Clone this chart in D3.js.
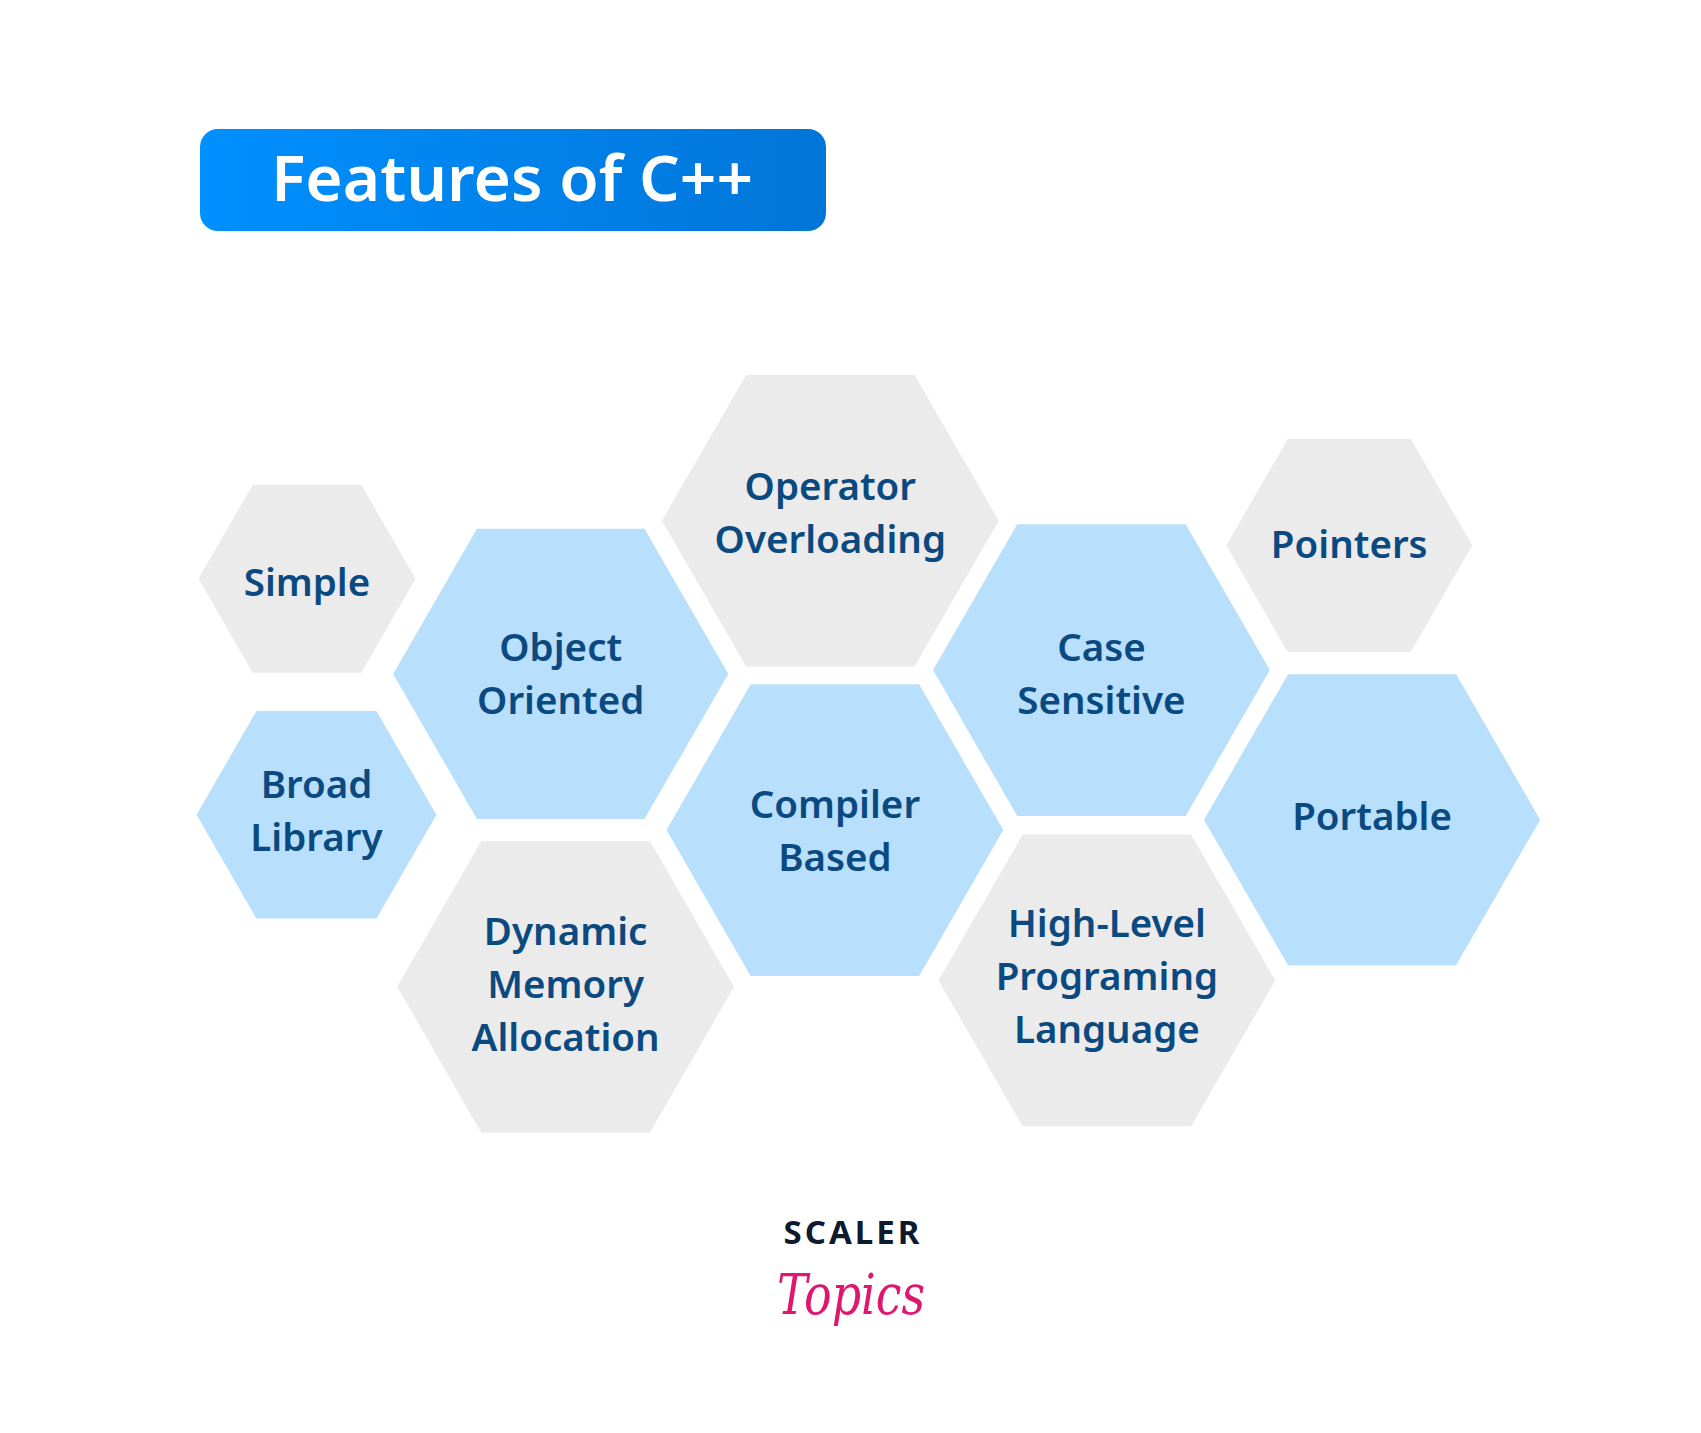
<!DOCTYPE html>
<html>
<head>
<meta charset="utf-8">
<script src="https://cdn.jsdelivr.net/npm/d3@7"></script>
<style>
  html, body { margin: 0; padding: 0; background: #fff; }
  svg { display: block; }
</style>
</head>
<body>
<script>
    'use strict';

    // feature labels, one entry per hexagon (lines split by "|")
    var labels = ['Simple', 'Broad|Library', 'Object|Oriented', 'Dynamic|Memory|Allocation',
        'Operator|Overloading', 'Compiler|Based', 'Case|Sensitive',
        'High-Level|Programing|Language', 'Pointers', 'Portable'];
    var tones = ['grey', 'blue', 'blue', 'grey', 'grey', 'blue', 'blue', 'grey', 'grey', 'blue'];
    // layout values, percent of the canvas
    var colPct = [18.08, 18.64, 33.07, 33.36, 49.00, 49.27, 65.02, 65.34, 79.66, 81.01];
    var rowPct = [40.44, 57.05, 47.14, 69.16, 36.36, 58.13, 46.87, 68.71, 38.10, 57.40];
    var sizePct = [6.38, 7.05, 9.85, 9.9, 9.9, 9.9, 9.9, 9.9, 7.23, 9.88];

    var title = 'Features of C++';
    var brandTop = 'SCALER', brandBottom = 'Topics';

    var width = 1701, height = 1433;

    var x = d3.scaleLinear().domain([0, 100]).range([1, width * 0.995 + 1]),
        y = d3.scaleLinear().domain([0, 100]).range([4, height * 0.9917 + 4]),
        r = d3.scaleLinear().domain([0, 100]).range([0, width]),
        fill = d3.scaleOrdinal().domain(['grey', 'blue']).range(['#ebebeb', '#b8dffb']);

    // label block sits a little off centre in some cells
    var nudge = {
        'Simple': 3, 'Broad|Library': -4, 'Dynamic|Memory|Allocation': -3,
        'Operator|Overloading': -8, 'Case|Sensitive': 3,
        'High-Level|Programing|Language': -4, 'Pointers': -1, 'Portable': -4
    };

    var svg = d3.select('body').append('svg')
        .attr('width', width)
        .attr('height', height);

    var defs = svg.append('defs');
    var grad = defs.append('linearGradient').attr('id', 'titleGrad')
        .attr('x1', '0%').attr('x2', '100%').attr('y1', '0%').attr('y2', '0%');
    grad.append('stop').attr('offset', '0%').attr('stop-color', '#0090ff');
    grad.append('stop').attr('offset', '100%').attr('stop-color', '#0175d8');

    // title badge
    var badge = svg.append('g');
    badge.append('rect')
        .attr('x', 200).attr('y', 129)
        .attr('width', 626).attr('height', 102)
        .attr('rx', 18).attr('ry', 18)
        .attr('fill', 'url(#titleGrad)');
    badge.append('text')
        .attr('x', 512).attr('y', 201)
        .attr('text-anchor', 'middle')
        .attr('font-family', '"Noto Sans", sans-serif')
        .attr('font-weight', 600)
        .attr('font-size', 64)
        .attr('fill', '#fff')
        .text(title);

    var rows = labels.map(function (d, i) {
        return {
            label: d,
            tone: tones[i],
            cx: x(colPct[i]),
            cy: y(rowPct[i]),
            R: r(sizePct[i])
        };
    });

    function hexPath(d) {
        var pts = d3.range(6).map(function (k) {
            var a = Math.PI / 3 * k;
            return [d.cx + d.R * Math.cos(a), d.cy + d.R * Math.sin(a)];
        });
        return 'M' + pts.join('L') + 'Z';
    }

    var cells = svg.append('g').selectAll('g.cell')
        .data(rows)
        .enter().append('g')
        .attr('class', 'cell');

    cells.append('path')
        .attr('d', hexPath)
        .attr('fill', function (d) { return fill(d.tone); });

    var lineH = 53;
    cells.append('text')
        .attr('text-anchor', 'middle')
        .attr('font-family', '"Noto Sans", sans-serif')
        .attr('font-weight', 600)
        .attr('font-size', 38.5)
        .attr('fill', '#0b4a80')
        .each(function (d) {
            var parts = d.label.split('|'),
                t = d3.select(this),
                first = d.cy - (parts.length - 1) * lineH / 2 + 14 + (nudge[d.label] || 0);
            parts.forEach(function (p, j) {
                t.append('tspan')
                    .attr('x', d.cx)
                    .attr('y', first + j * lineH)
                    .text(p);
            });
        });

    // brand mark
    var brand = svg.append('g');
    brand.append('text')
        .attr('x', 853).attr('y', 1244)
        .attr('text-anchor', 'middle')
        .attr('font-family', '"Noto Sans", sans-serif')
        .attr('font-weight', 700)
        .attr('font-size', 33)
        .attr('letter-spacing', 3)
        .attr('fill', '#0f1a2e')
        .text(brandTop);
    brand.append('text')
        .attr('x', 851).attr('y', 1314)
        .attr('text-anchor', 'middle')
        .attr('font-family', '"DejaVu Serif", serif')
        .attr('font-style', 'italic')
        .attr('font-size', 56)
        .attr('textLength', 148)
        .attr('lengthAdjust', 'spacingAndGlyphs')
        .attr('fill', '#e0176f')
        .text(brandBottom);
</script>
</body>
</html>
